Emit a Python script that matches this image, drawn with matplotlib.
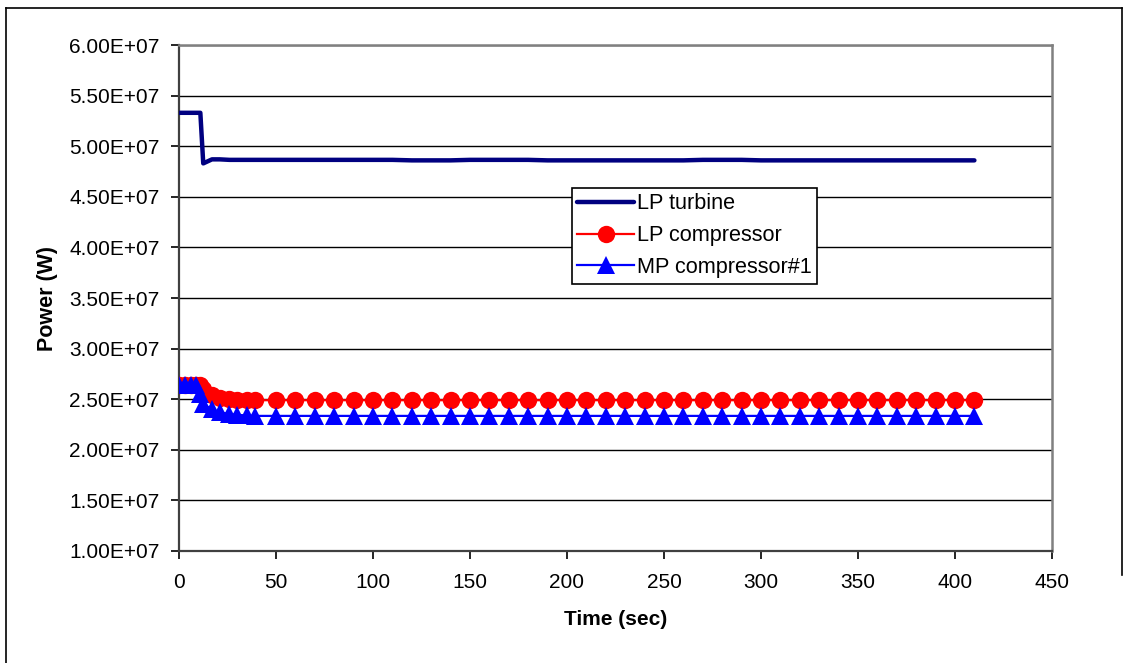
import matplotlib
matplotlib.use("Agg")
import matplotlib.pyplot as plt
from matplotlib.ticker import FuncFormatter, MultipleLocator
from matplotlib.lines import Line2D

plt.rcParams['font.family'] = ['Liberation Sans', 'DejaVu Sans']

# Simulation time (s)
time_s = [0, 3, 6, 9, 11, 12.5, 17, 21, 26, 30, 35, 39,
          50, 60, 70, 80, 90, 100, 110, 120, 130, 140, 150, 160, 170,
          180, 190, 200, 210, 220, 230, 240, 250, 260, 270, 280, 290,
          300, 310, 320, 330, 340, 350, 360, 370, 380, 390, 400, 410]

# Shaft powers (W)
lp_turbine = [5.33e7, 5.33e7, 5.33e7, 5.33e7, 5.33e7, 4.83e7, 4.87e7, 4.87e7,
              4.865e7, 4.865e7, 4.865e7, 4.865e7,
              4.865e7, 4.865e7, 4.865e7, 4.865e7, 4.865e7, 4.865e7, 4.865e7,
              4.86e7, 4.86e7, 4.86e7, 4.865e7, 4.865e7, 4.865e7, 4.865e7,
              4.86e7, 4.86e7, 4.86e7, 4.86e7, 4.86e7, 4.86e7, 4.86e7,
              4.86e7, 4.865e7, 4.865e7, 4.865e7, 4.86e7, 4.86e7, 4.86e7,
              4.86e7, 4.86e7, 4.86e7, 4.86e7, 4.86e7, 4.86e7, 4.86e7,
              4.86e7, 4.86e7]

lp_compressor = [2.645e7, 2.645e7, 2.645e7, 2.645e7, 2.64e7, 2.60e7, 2.54e7,
                 2.51e7, 2.50e7, 2.495e7, 2.49e7, 2.49e7,
                 2.49e7, 2.49e7, 2.49e7, 2.49e7, 2.49e7, 2.49e7, 2.49e7,
                 2.49e7, 2.49e7, 2.49e7, 2.49e7, 2.49e7, 2.49e7, 2.49e7,
                 2.49e7, 2.49e7, 2.49e7, 2.49e7, 2.49e7, 2.49e7, 2.49e7,
                 2.49e7, 2.49e7, 2.49e7, 2.49e7, 2.49e7, 2.49e7, 2.49e7,
                 2.49e7, 2.49e7, 2.49e7, 2.49e7, 2.49e7, 2.49e7, 2.49e7,
                 2.49e7, 2.49e7]

mp_compressor_1 = [2.645e7, 2.645e7, 2.645e7, 2.645e7, 2.55e7, 2.45e7, 2.40e7,
                   2.37e7, 2.355e7, 2.345e7, 2.34e7, 2.335e7,
                   2.335e7, 2.335e7, 2.335e7, 2.335e7, 2.335e7, 2.335e7, 2.335e7,
                   2.335e7, 2.335e7, 2.335e7, 2.335e7, 2.335e7, 2.335e7, 2.335e7,
                   2.335e7, 2.335e7, 2.335e7, 2.335e7, 2.335e7, 2.335e7, 2.335e7,
                   2.335e7, 2.335e7, 2.335e7, 2.335e7, 2.335e7, 2.335e7, 2.335e7,
                   2.335e7, 2.335e7, 2.335e7, 2.335e7, 2.335e7, 2.335e7, 2.335e7,
                   2.335e7, 2.335e7]

series_labels = ["LP turbine", "LP compressor", "MP compressor#1"]

fig = plt.figure(figsize=(11.28, 6.63), dpi=100)
ax = fig.add_axes([179 / 1128, 1 - 551 / 663, (1052 - 179) / 1128, (551 - 45) / 663])

ax.plot(time_s, lp_turbine, color="#000080", lw=3.2, label=series_labels[0],
        solid_capstyle="round", zorder=3)
ax.plot(time_s, lp_compressor, color="#FF0000", lw=1.6, marker="o", ms=12.5,
        markeredgewidth=0, label=series_labels[1], zorder=4)
ax.plot(time_s, mp_compressor_1, color="#0000FF", lw=1.6, marker="^", ms=13,
        markeredgewidth=0, label=series_labels[2], zorder=5)

ax.set_xlim(0, 450)
ax.set_ylim(1.0e7, 6.0e7)
ax.xaxis.set_major_locator(MultipleLocator(50))
ax.yaxis.set_major_locator(MultipleLocator(0.5e7))
ax.yaxis.set_major_formatter(FuncFormatter(lambda v, p: f"{v:.2E}"))

ax.grid(axis="y", color="black", lw=1.0)
ax.set_axisbelow(True)

for side in ("top", "right"):
    ax.spines[side].set_color("#808080")
    ax.spines[side].set_linewidth(1.8)
ax.spines["left"].set_color("#404040")
ax.spines["left"].set_linewidth(1.6)
ax.spines["bottom"].set_color("#404040")
ax.spines["bottom"].set_linewidth(1.6)

ax.tick_params(axis="both", direction="out", length=6, width=1.2,
               labelsize=15, color="black")
ax.tick_params(axis="y", pad=8)
ax.tick_params(axis="x", pad=10)

ax.set_xlabel("Time (sec)", fontsize=15, fontweight="bold", labelpad=13)
ax.set_ylabel("Power (W)", fontsize=15.5, fontweight="bold", labelpad=8)

leg = ax.legend(loc="upper left", bbox_to_anchor=(572 / 1128, 1 - 188 / 663),
                bbox_transform=fig.transFigure, fontsize=15.6, frameon=True,
                fancybox=False, edgecolor="black", framealpha=1,
                handlelength=2.6, handletextpad=0.15, labelspacing=0.5,
                borderpad=0.25, borderaxespad=0)
leg.get_frame().set_linewidth(1.2)

# Outer frame around the chart
fig.add_artist(Line2D([5.5 / 1128, 5.5 / 1128], [0, 1 - 7.5 / 663],
                      transform=fig.transFigure, color="black", lw=1.2))
fig.add_artist(Line2D([5.5 / 1128, 1121.5 / 1128], [1 - 7.5 / 663, 1 - 7.5 / 663],
                      transform=fig.transFigure, color="black", lw=1.2))
fig.add_artist(Line2D([1121.5 / 1128, 1121.5 / 1128], [1 - 575 / 663, 1 - 7.5 / 663],
                      transform=fig.transFigure, color="black", lw=1.2))

fig.savefig("out.png", dpi=100)
